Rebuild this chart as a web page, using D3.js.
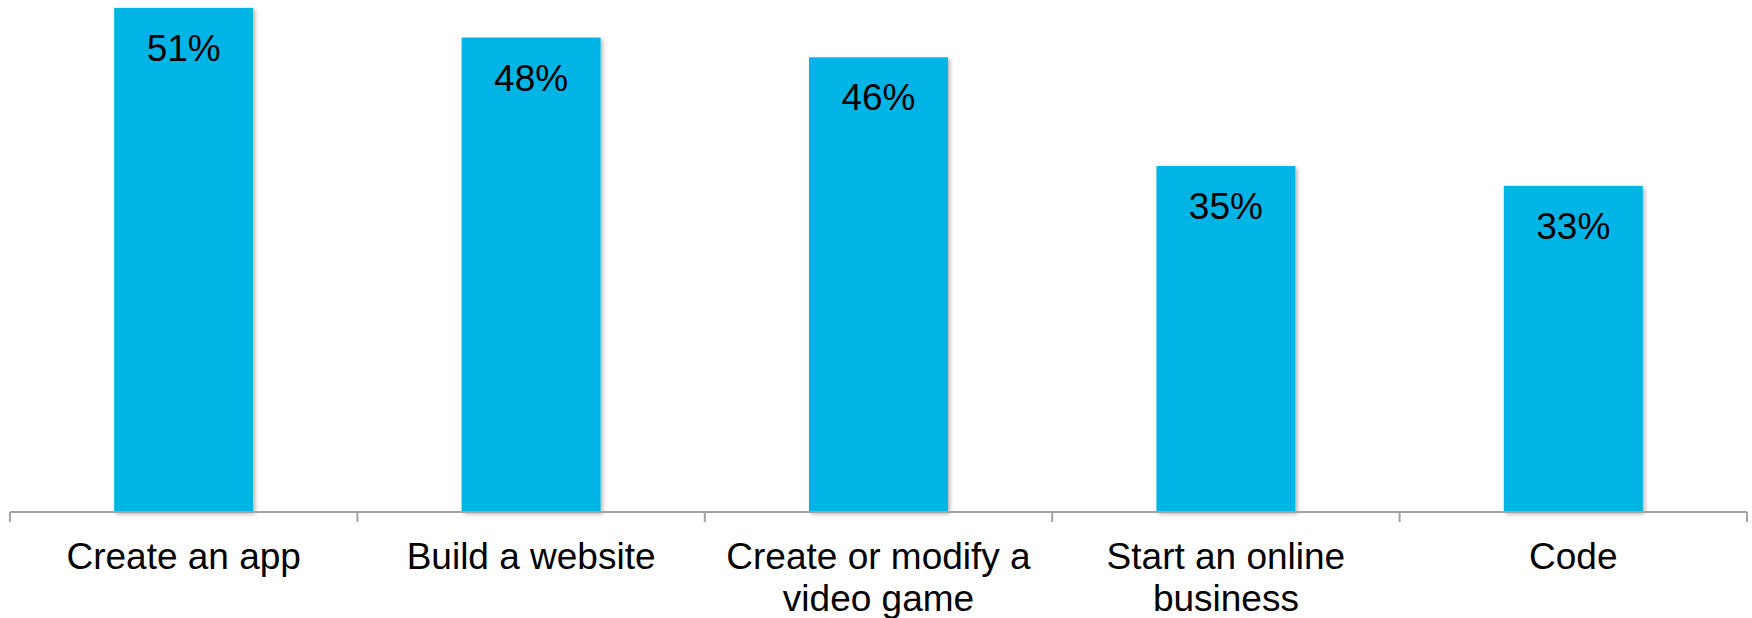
<!DOCTYPE html>
<html>
<head>
<meta charset="utf-8">
<script src="https://cdn.jsdelivr.net/npm/d3@7"></script>
<style>
	html, body { margin: 0; padding: 0; background: #fff; }
	svg { display: block; font-family: "Liberation Sans", Arial, Helvetica, sans-serif; }
</style>
</head>
<body>
<svg id="barGraph"></svg>
<script>
'use strict';

var categories = ["Create an app", "Build a website", "Create or modify a video game", "Start an online business", "Code"];
var values = [51, 48, 46, 35, 33];
var valueLabels = ["51%", "48%", "46%", "35%", "33%"];

var svgWidth = 1752;
var svgHeight = 618;
var margin = { top: 0, right: 5, bottom: 106, left: 10 };

var svg = d3.select("#barGraph")
	.attr("width", svgWidth)
	.attr("height", svgHeight);

// soft shadow on the bars
var defs = svg.append("defs");
var shadow = defs.append("filter")
	.attr("id", "barShadow")
	.attr("x", "-10%").attr("y", "-10%")
	.attr("width", "130%").attr("height", "130%");
shadow.append("feDropShadow")
	.attr("dx", 2)
	.attr("dy", 2)
	.attr("stdDeviation", 2)
	.attr("flood-color", "#000")
	.attr("flood-opacity", 0.3);

var x = d3.scaleBand()
	.domain(categories)
	.range([margin.left, svgWidth - margin.right])
	.paddingInner(0.6)
	.paddingOuter(0.3);

var y = d3.scaleLinear()
	.domain([0, 51.8])
	.range([svgHeight - margin.bottom, margin.top]);

var bars = svg.append("g");

bars.selectAll("rect")
	.data(values)
	.enter()
	.append("rect")
	.attr("x", function(d, i) { return x(categories[i]); })
	.attr("y", function(d) { return y(d); })
	.attr("width", x.bandwidth())
	.attr("height", function(d) { return y(0) - y(d); })
	.attr("fill", "#00b5e5")
	.attr("filter", "url(#barShadow)");

bars.selectAll("text")
	.data(values)
	.enter()
	.append("text")
	.attr("x", function(d, i) { return x(categories[i]) + x.bandwidth() / 2; })
	.attr("y", function(d) { return y(d) + 53; })
	.attr("text-anchor", "middle")
	.attr("font-size", "37px")
	.attr("fill", "#000")
	.text(function(d, i) { return valueLabels[i]; });

// axis: ticks sit on the band edges, like a category axis
var step = x.step();
var axisLeft = margin.left;
var tickX = d3.range(categories.length + 1).map(function(i) { return axisLeft + i * step; });

var axis = svg.append("g");
axis.append("line")
	.attr("x1", tickX[0])
	.attr("x2", tickX[tickX.length - 1])
	.attr("y1", y(0))
	.attr("y2", y(0))
	.attr("stroke", "#a3a3a3")
	.attr("stroke-width", 2);

axis.selectAll(".tick")
	.data(tickX)
	.enter()
	.append("line")
	.attr("class", "tick")
	.attr("x1", function(d) { return d; })
	.attr("x2", function(d) { return d; })
	.attr("y1", y(0))
	.attr("y2", y(0) + 10)
	.attr("stroke", "#a3a3a3")
	.attr("stroke-width", 2);

var labels = axis.selectAll(".label")
	.data(categories)
	.enter()
	.append("text")
	.attr("class", "label")
	.attr("x", function(d) { return x(d) + x.bandwidth() / 2; })
	.attr("y", y(0) + 57)
	.attr("text-anchor", "middle")
	.attr("font-size", "37px")
	.attr("fill", "#000")
	.text(function(d) { return d; });

// wrap long labels within the band width
labels.each(function(d) {
	var text = d3.select(this);
	var words = d.split(" ");
	var cx = text.attr("x");
	var maxWidth = step * 0.95;
	text.text(null);
	var line = [];
	var tspan = text.append("tspan").attr("x", cx).attr("dy", 0);
	words.forEach(function(word) {
		line.push(word);
		tspan.text(line.join(" "));
		if (tspan.node().getComputedTextLength() > maxWidth && line.length > 1) {
			line.pop();
			tspan.text(line.join(" "));
			line = [word];
			tspan = text.append("tspan").attr("x", cx).attr("dy", 42).text(word);
		}
	});
});
</script>
</body>
</html>
